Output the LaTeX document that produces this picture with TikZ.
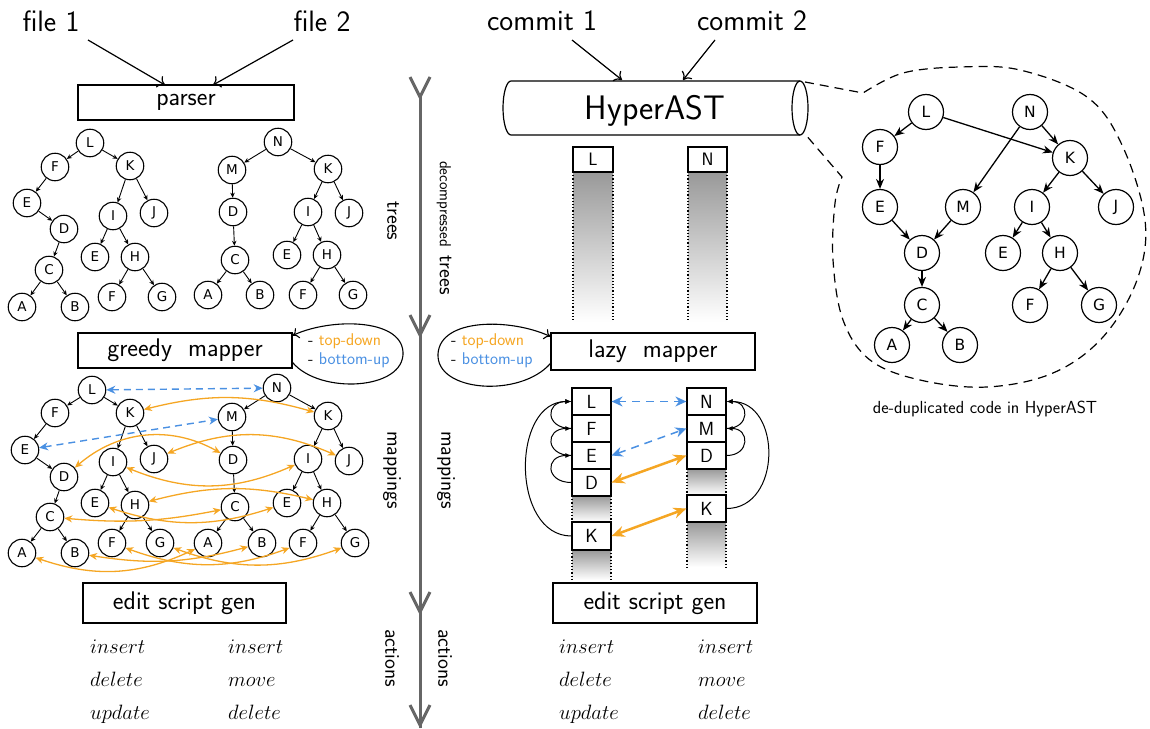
\documentclass[tikz,border=0pt]{standalone}
\usepackage{fontspec}
\newfontfamily\dejavu{DejaVu Sans}
\usetikzlibrary{arrows.meta}
\definecolor{myorange}{HTML}{F5A623}
\definecolor{myblue}{HTML}{4A90E2}
\definecolor{axisgray}{HTML}{666666}
\newcommand\setfs[1]{\fontsize{#1}{#1}\selectfont}
\begin{document}
\begin{tikzpicture}[x=1pt,y=-1pt,
  lbl/.style={font=\sffamily\setfs{29.5}, inner sep=0pt},
  procbox/.style={draw, line width=1.2pt, inner sep=0pt, font=\sffamily\setfs{25.5}},
  tn/.style={circle, draw, line width=1.1pt, minimum size=27.5pt, inner sep=0pt, font=\dejavu\setfs{13.5}},
  te/.style={-{Stealth[length=5pt,width=4.5pt]}, line width=0.9pt},
  rn/.style={circle, draw, line width=1.2pt, minimum size=35pt, inner sep=0pt, font=\dejavu\setfs{15.5}},
  re/.style={-{Stealth[length=10pt,width=8pt]}, line width=1.3pt},
  inarrow/.style={-{To[length=7pt,width=13pt]}, line width=1.2pt},
  stk/.style={draw, line width=1.2pt, minimum width=39pt, minimum height=27pt, inner sep=0pt, font=\sffamily\setfs{19}, fill=white},
  col/.style={top color=black!40, bottom color=white, draw=none},
  colside/.style={dotted, line width=1.2pt},
  vlbl/.style={rotate=-90, font=\sffamily\setfs{21}, inner sep=0pt},
  ax/.style={draw=axisgray, line width=3pt},
  omap/.style={{Stealth[length=8pt,width=7pt]}-{Stealth[length=8pt,width=7pt]}, draw=myorange, line width=1.3pt},
  bmap/.style={{Stealth[length=9pt,width=8pt]}-{Stealth[length=9pt,width=8pt]}, draw=myblue, dash pattern=on 7pt off 5pt, line width=1.4pt},
  omapR/.style={{Stealth[length=13pt,width=11pt]}-{Stealth[length=13pt,width=11pt]}, draw=myorange, line width=2.5pt},
  bmapR/.style={{Stealth[length=11pt,width=10pt]}-{Stealth[length=11pt,width=10pt]}, draw=myblue, dash pattern=on 8pt off 6pt, line width=1.5pt},
  loopa/.style={-{Latex[length=6pt,width=5pt]}, line width=1pt},
  ops/.style={anchor=base west, inner sep=0pt, font=\setfs{22}},
  sel/.style={anchor=west, inner sep=0pt, font=\sffamily\setfs{17}},
  blobline/.style={dash pattern=on 9pt off 6pt, line width=1.2pt},
]
\useasboundingbox (0,0) rectangle (1150,728);

% ---------- left: inputs and parser
\node[lbl] (file1) at (51,21) {file 1};
\node[lbl] (file2) at (322,21) {file 2};
\node[procbox, minimum width=216pt, minimum height=35pt] (parser) at (186,102.5) {parser};
\coordinate (f1s) at (88,40); \coordinate (f1e) at (165,85);
\coordinate (f2s) at (293,40); \coordinate (f2e) at (213,85);
\draw[inarrow] (f1s) -- (f1e);
\draw[inarrow] (f2s) -- (f2e);

% ---------- tree 1 (trees)
\foreach \n/\x/\y/\t in {L/90/143/L, F/55/167/F, K/130/166/K, E/27/203/E, D/64/229/D, I/113/216/I, J/154/213/J, E2/95/257/E, H/135/257/H, C/49/270/C, A/22/307/A, B/75/307/B, F2/112/297/F, G/162/297/G}
  \node[tn] (a-\n) at (\x,\y) {\t};
\foreach \p/\c in {L/F, L/K, F/E, E/D, D/C, C/A, C/B, K/I, K/J, I/E2, I/H, H/F2, H/G}
  \draw[te] (a-\p) -- (a-\c);
% ---------- tree 2 (trees)
\foreach \n/\x/\y/\t in {N/278/142/N, M/232/170/M, K/328/169/K, D/233/212/D, I/308/212/I, J/349/213/J, C/235/260/C, E/287/255/E, H/327/255/H, A/208/295/A, B/260/295/B, F/303/295/F, G/353/295/G}
  \node[tn] (b-\n) at (\x,\y) {\t};
\foreach \p/\c in {N/M, N/K, M/D, D/C, C/A, C/B, K/I, K/J, I/E, I/H, H/F, H/G}
  \draw[te] (b-\p) -- (b-\c);

% ---------- greedy mapper
\node[procbox, minimum width=214pt, minimum height=35pt] (greedy) at (185,350.5) {greedy\ \ mapper};
\draw[-{To[length=6pt,width=11pt]}, line width=1.1pt] ([yshift=-12pt]greedy.east) .. controls (320,395) and (405,390) .. (403,352) .. controls (401,318) and (330,318) .. ([yshift=15pt]greedy.east);
\node[sel] (gtd) at (308,341) {- \textcolor{myorange}{top-down}};
\node[sel] (gbu) at (308,360) {- \textcolor{myblue}{bottom-up}};

% ---------- mapping trees
\foreach \n/\x/\y/\t in {L/92/390/L, F/55/413/F, K/130/413/K, E/25/450/E, D/64/477/D, I/113/462/I, J/154/459/J, E2/95/503/E, H/135/505/H, C/50/517/C, A/22/553/A, B/75/553/B, F2/112/543/F, G/160/543/G}
  \node[tn] (c-\n) at (\x,\y) {\t};
\foreach \p/\c in {L/F, L/K, F/E, E/D, D/C, C/A, C/B, K/I, K/J, I/E2, I/H, H/F2, H/G}
  \draw[te] (c-\p) -- (c-\c);
\foreach \n/\x/\y/\t in {N/277/388/N, M/232/417/M, K/328/416/K, D/233/460/D, I/308/459/I, J/349/461/J, C/235/507/C, E/287/503/E, H/327/503/H, A/208/543/A, B/262/543/B, F/303/543/F, G/355/543/G}
  \node[tn] (d-\n) at (\x,\y) {\t};
\foreach \p/\c in {N/M, N/K, M/D, D/C, C/A, C/B, K/I, K/J, I/E, I/H, H/F, H/G}
  \draw[te] (d-\p) -- (d-\c);

\draw[bmap] (c-L) -- (d-N);
\draw[bmap] (c-E) -- (d-M);
\draw[omap] (c-K) to[bend left=15] (d-K);
\draw[omap] (c-D) to[bend left=35] (d-D);
\draw[omap] (c-J) to[bend left=23] (d-J);
\draw[omap] (c-I) to[bend right=23] (d-I);
\draw[omap] (c-H) to[bend left=14] (d-H);
\draw[omap] (c-E2) to[bend right=18] (d-E);
\draw[omap] (c-C) to[bend right=8] (d-C);
\draw[omap] (c-A) to[bend right=22] (d-A);
\draw[omap] (c-B) to[bend right=12] (d-B);
\draw[omap] (c-F2) to[bend right=20] (d-F);
\draw[omap] (c-G) to[bend right=20] (d-G);

% ---------- left edit script
\node[procbox, minimum width=203pt, minimum height=40pt] (edit1) at (184.5,603) {edit script gen};
\node[ops] (l-i1) at (90,653) {$insert$};
\node[ops] (l-d1) at (90,686) {$delete$};
\node[ops] (l-u1) at (90,719) {$update$};
\node[ops] (l-i2) at (228,653) {$insert$};
\node[ops] (l-m2) at (228,686) {$move$};
\node[ops] (l-d2) at (228,719) {$delete$};

% ---------- central axis
\draw[ax] (420,97) -- (420,728);
\foreach \t in {97,335,612,725}
  \draw[ax] (410,\t-20) -- (420,\t) -- (430,\t-20);
\node[vlbl] (lbl-trees) at (393,221) {trees};
\node[vlbl] (lbl-dtrees) at (444,228) {{\setfs{16}decompressed}\hspace{9pt}trees};
\node[vlbl] (lbl-map1) at (392,470) {mappings};
\node[vlbl] (lbl-map2) at (446,470) {mappings};
\node[vlbl] (lbl-act1) at (392,658) {actions};
\node[vlbl] (lbl-act2) at (445,658) {actions};

% ---------- right: commits and HyperAST
\node[lbl] (c1) at (542,21) {commit 1};
\node[lbl] (c2) at (752,21) {commit 2};
\draw[line width=1.2pt] (800,81) -- (511,81) arc[start angle=-90, end angle=-270, x radius=8, y radius=27] -- (800,135);
\draw[line width=1.2pt] (800,108) ellipse [x radius=8, y radius=27];
\node[font=\sffamily\setfs{34}, inner sep=0pt] (hyper) at (655,111) {HyperAST};
\coordinate (c1s) at (572,40); \coordinate (c1e) at (622,80);
\coordinate (c2s) at (715,40); \coordinate (c2e) at (683,80);
\draw[inarrow] (c1s) -- (c1e);
\draw[inarrow] (c2s) -- (c2e);

% columns under L and N
\shade[col] (573,172) rectangle (613,322);
\draw[colside] (573,172) -- (573,322);
\draw[colside] (613,172) -- (613,322);
\shade[col] (688,172) rectangle (727,322);
\draw[colside] (688,172) -- (688,322);
\draw[colside] (727,172) -- (727,322);
\node[stk, minimum width=40pt, minimum height=25pt, font=\sffamily\setfs{18}] (tL) at (593,159.5) {L};
\node[stk, minimum width=39pt, minimum height=25pt, font=\sffamily\setfs{18}] (tN) at (707.5,159.5) {N};

% ---------- dashed zoom blob
\draw[blobline] (805,82) -- plot[smooth, tension=0.6] coordinates {(863,93) (903,73) (960,67) (1020,70) (1087,97) (1122,145) (1145,220) (1137,280) (1103,337) (1053,373) (987,387) (920,380) (870,360) (843,320) (833,260) (835,203) (842,177)} -- (805,134);

% ---------- right tree
\foreach \n/\x/\y/\t in {L/926/112/L, N/1030/112/N, F/880/147/F, K/1070/158/K, E/880/207/E, M/963/207/M, I/1032/207/I, J/1116/207/J, D/922/253/D, E2/1003/253/E, H/1060/253/H, C/922/305/C, F2/1030/305/F, G/1099/305/G, A/892/345/A, B/960/345/B}
  \node[rn] (r-\n) at (\x,\y) {\t};
\foreach \p/\c in {L/F, L/K, N/M, N/K, F/E, E/D, M/D, K/I, K/J, I/E2, I/H, D/C, H/F2, H/G, C/A, C/B}
  \draw[re] (r-\p) -- (r-\c);
\node[font=\sffamily\setfs{17.5}, inner sep=0pt] (dedup) at (985,409) {de-duplicated code in HyperAST};

% ---------- lazy mapper
\node[procbox, minimum width=204pt, minimum height=37pt] (lazy) at (653,351.5) {lazy\ \ mapper};
\draw[-{To[length=6pt,width=11pt]}, line width=1.1pt] ([yshift=-12pt]lazy.west) .. controls (520,398) and (436,392) .. (438,354) .. controls (440,318) and (510,318) .. ([yshift=15pt]lazy.west);
\node[sel] (ltd) at (451,341) {- \textcolor{myorange}{top-down}};
\node[sel] (lbu) at (451,360) {- \textcolor{myblue}{bottom-up}};

% ---------- stacks
\shade[col] (572,496) rectangle (611,522);
\shade[col] (572,550) rectangle (611,580);
\draw[colside] (572,496) -- (572,522); \draw[colside] (611,496) -- (611,522);
\draw[colside] (572,550) -- (572,580); \draw[colside] (611,550) -- (611,580);
\shade[col] (687,469) rectangle (726,495);
\shade[col] (687,522) rectangle (726,567);
\draw[colside] (687,469) -- (687,495); \draw[colside] (726,469) -- (726,495);
\draw[colside] (687,522) -- (687,567); \draw[colside] (726,522) -- (726,567);

\node[stk] (sL) at (591.5,401.5) {L};
\node[stk] (sF) at (591.5,428.5) {F};
\node[stk] (sE) at (591.5,455.5) {E};
\node[stk] (sD) at (591.5,482.5) {D};
\node[stk, minimum height=28pt] (sK) at (591.5,536) {K};
\node[stk] (tN2) at (706.5,401.5) {N};
\node[stk] (tM2) at (706.5,428.5) {M};
\node[stk] (tD2) at (706.5,455.5) {D};
\node[stk] (tK2) at (706.5,508.5) {K};

\draw[loopa] (sF.west) .. controls (545,428.5) and (545,401.5) .. (sL.west);
\draw[loopa] (sE.west) .. controls (545,455.5) and (545,428.5) .. (sF.west);
\draw[loopa] (sD.west) .. controls (545,482.5) and (545,455.5) .. (sE.west);
\draw[loopa] (sK.west) .. controls (511,536) and (511,401.5) .. (sL.west);
\draw[loopa] (tM2.east) .. controls (750,428.5) and (750,401.5) .. (tN2.east);
\draw[loopa] (tD2.east) .. controls (750,455.5) and (750,428.5) .. (tM2.east);
\draw[loopa] (tK2.east) .. controls (782,508.5) and (782,401.5) .. (tN2.east);

\draw[bmapR] (sL.east) -- (tN2.west);
\draw[bmapR] (sE.east) -- (tM2.west);
\draw[omapR] (sD.east) -- (tD2.west);
\draw[omapR] (sK.east) -- (tK2.west);

% ---------- right edit script
\node[procbox, minimum width=204pt, minimum height=40pt] (edit2) at (655,603) {edit script gen};
\node[ops] (r-i1) at (559,653) {$insert$};
\node[ops] (r-d1) at (559,686) {$delete$};
\node[ops] (r-u1) at (559,719) {$update$};
\node[ops] (r-i2) at (698,653) {$insert$};
\node[ops] (r-m2) at (698,686) {$move$};
\node[ops] (r-d2) at (698,719) {$delete$};
\end{tikzpicture}
\end{document}
